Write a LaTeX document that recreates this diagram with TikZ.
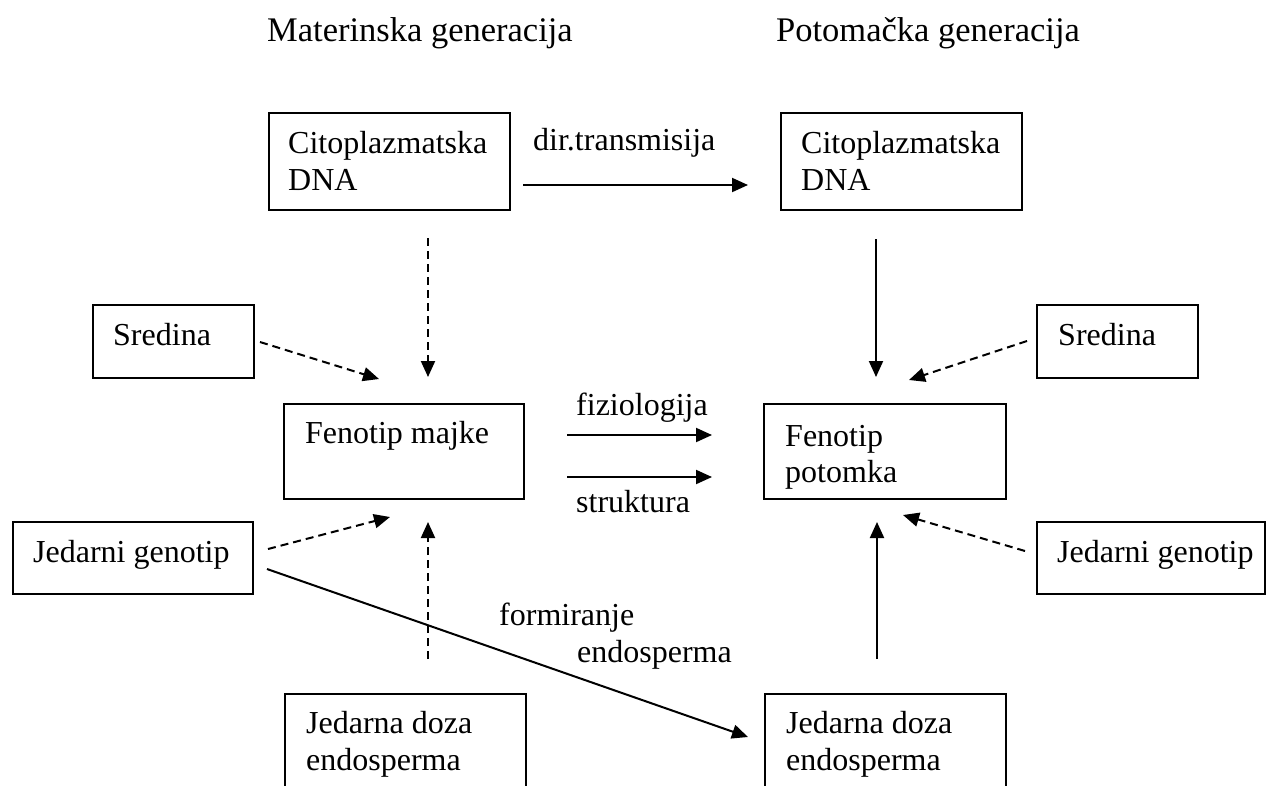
\documentclass[tikz,border=0pt]{standalone}
\usepackage{fontspec}
\setmainfont{Liberation Serif}
\usetikzlibrary{arrows.meta}
\begin{document}
\begin{tikzpicture}[x=1pt,y=-1pt,
  box/.style={draw, line width=2pt, inner sep=0pt, anchor=north west},
  lbl/.style={anchor=base west, inner sep=0pt, font=\fontsize{32}{37}\selectfont},
  ttl/.style={anchor=base west, inner sep=0pt, font=\fontsize{34.5}{40}\selectfont},
  arr/.style={line width=2pt, -{Triangle[length=16pt,width=14pt]}},
  darr/.style={arr, dash pattern=on 8pt off 5pt},
]
\clip (0,0) rectangle (1266,785);
\fill[white] (0,0) rectangle (1266,785);

% titles
\node[ttl] (t1) at (267,41) {Materinska generacija};
\node[ttl] (t2) at (776,41) {Potomačka generacija};

% boxes
\node[box, minimum width=241pt, minimum height=97pt] (cl) at (268,112) {};
\node[box, minimum width=241pt, minimum height=97pt] (cr) at (780,112) {};
\node[box, minimum width=161pt, minimum height=73pt] (sl) at (92,304) {};
\node[box, minimum width=161pt, minimum height=73pt] (sr) at (1036,304) {};
\node[box, minimum width=240pt, minimum height=95pt] (fm) at (283,403) {};
\node[box, minimum width=242pt, minimum height=95pt] (fp) at (763,403) {};
\node[box, minimum width=240pt, minimum height=72pt] (jl) at (12,521) {};
\node[box, minimum width=228pt, minimum height=72pt] (jr) at (1036,521) {};
\node[box, minimum width=241pt, minimum height=130pt] (bl) at (284,693) {};
\node[box, minimum width=241pt, minimum height=130pt] (br) at (764,693) {};

% box texts
\node[lbl] (cl1) at (288,153) {Citoplazmatska};
\node[lbl] (cl2) at (288,190) {DNA};
\node[lbl] (cr1) at (801,153) {Citoplazmatska};
\node[lbl] (cr2) at (801,190) {DNA};
\node[lbl] (slt) at (113,345) {Sredina};
\node[lbl] (srt) at (1058,345) {Sredina};
\node[lbl] (fmt) at (305,443) {Fenotip majke};
\node[lbl] (fp1) at (785,446) {Fenotip};
\node[lbl] (fp2) at (785,482) {potomka};
\node[lbl] (jlt) at (33,562) {Jedarni genotip};
\node[lbl] (jrt) at (1057,562) {Jedarni genotip};
\node[lbl] (bl1) at (306,733) {Jedarna doza};
\node[lbl] (bl2) at (306,770) {endosperma};
\node[lbl] (br1) at (786,733) {Jedarna doza};
\node[lbl] (br2) at (786,770) {endosperma};

% edge labels
\node[lbl] (ldir) at (533,150) {dir.transmisija};
\node[lbl] (lfiz) at (576,415) {fiziologija};
\node[lbl] (lstr) at (576,512) {struktura};
\node[lbl] (lfor) at (499,625) {formiranje};
\node[lbl] (lend) at (577,662) {endosperma};

% connector end points
\coordinate (d1) at (523,185);   \coordinate (d2) at (748,185);
\coordinate (v1) at (428,238);   \coordinate (v2) at (428,377);
\coordinate (w1) at (876,239);   \coordinate (w2) at (876,377);
\coordinate (s1) at (260,342);   \coordinate (s2) at (379,379);
\coordinate (r1) at (1027,341);  \coordinate (r2) at (909,380);
\coordinate (f1) at (567,435);   \coordinate (f2) at (712,435);
\coordinate (k1) at (567,477);   \coordinate (k2) at (712,477);
\coordinate (g1) at (268,549);   \coordinate (g2) at (390,517);
\coordinate (e1) at (267,569);   \coordinate (e2) at (748,737);
\coordinate (u1) at (428,659);   \coordinate (u2) at (428,522);
\coordinate (p1) at (877,659);   \coordinate (p2) at (877,522);
\coordinate (h1) at (1025,551);  \coordinate (h2) at (903,515);

\draw[arr]  (d1) -- (d2);
\draw[darr] (v1) -- (v2);
\draw[arr]  (w1) -- (w2);
\draw[darr] (s1) -- (s2);
\draw[darr] (r1) -- (r2);
\draw[arr]  (f1) -- (f2);
\draw[arr]  (k1) -- (k2);
\draw[darr] (g1) -- (g2);
\draw[arr]  (e1) -- (e2);
\draw[darr] (u1) -- (u2);
\draw[arr]  (p1) -- (p2);
\draw[darr] (h1) -- (h2);
\end{tikzpicture}
\end{document}
